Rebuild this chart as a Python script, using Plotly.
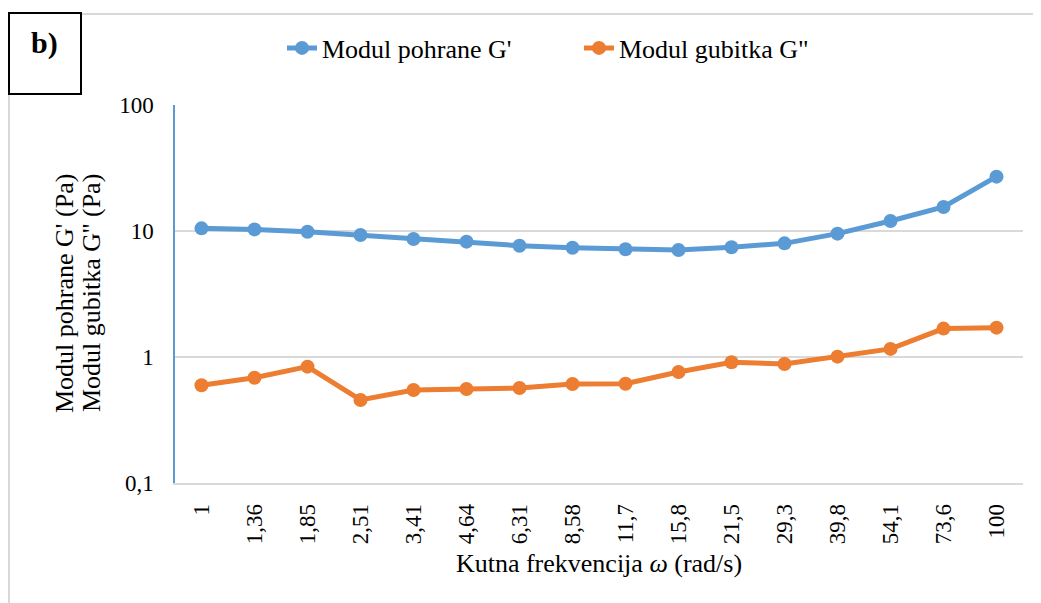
import plotly.graph_objects as go

categories = ["1", "1,36", "1,85", "2,51", "3,41", "4,64", "6,31", "8,58", "11,7",
              "15,8", "21,5", "29,3", "39,8", "54,1", "73,6", "100"]
g_storage = [10.5, 10.3, 9.87, 9.29, 8.64, 8.23, 7.64, 7.36, 7.16, 7.06, 7.43, 7.98,
             9.53, 12.0, 15.5, 27.0]
g_loss = [0.596, 0.685, 0.838, 0.456, 0.547, 0.557, 0.567, 0.611, 0.614, 0.760, 0.908,
          0.880, 1.006, 1.16, 1.68, 1.71]
y_tickvals = [0.1, 1, 10, 100]
y_ticktext = ["0,1", "1", "10", "100"]
y_title_lines = ["Modul pohrane G' (Pa)", "Modul gubitka G'' (Pa)"]

FONT = "Liberation Serif"
BLUE = "#5B9BD5"
ORANGE = "#ED7D31"
GRID = "#D9D9D9"

OFF = 8  # page body margin
W, H = 1041 - OFF, 603 - OFF
L, R, T, B = 175 - OFF, 18, 105 - OFF, 120
pw, ph = W - L - R, H - T - B


def px(x):
    return (x - OFF - L) / pw


def py(y):
    return (H - B - (y - OFF)) / ph


fig = go.Figure()
fig.add_trace(go.Scatter(x=categories, y=g_storage, mode="lines+markers",
                         name="Modul pohrane G'",
                         line=dict(color=BLUE, width=5),
                         marker=dict(color=BLUE, size=14)))
fig.add_trace(go.Scatter(x=categories, y=g_loss, mode="lines+markers",
                         name="Modul gubitka G\"",
                         line=dict(color=ORANGE, width=5),
                         marker=dict(color=ORANGE, size=14)))

fig.update_layout(
    width=W, height=H,
    margin=dict(l=L, r=R, t=T, b=B),
    paper_bgcolor="white", plot_bgcolor="white",
    font=dict(family=FONT, size=23, color="black"),
    showlegend=True,
    legend=dict(orientation="h", x=px(282), xanchor="left", y=py(48), yanchor="middle",
                font=dict(family=FONT, size=26, color="black"),
                entrywidth=252, entrywidthmode="pixels", tracegroupgap=0),
    xaxis=dict(type="category", showgrid=False, showline=True, linecolor=GRID,
               linewidth=1.5, tickangle=-90, ticks="outside", ticklen=10,
               tickcolor="rgba(0,0,0,0)", tickfont=dict(family=FONT, size=23),
               title=dict(text="Kutna frekvencija <i>ω</i> (rad/s)",
                          font=dict(family=FONT, size=26), standoff=11),
               range=[-0.5, len(categories) - 0.5]),
    yaxis=dict(type="log", range=[-1, 2], tickvals=y_tickvals, ticktext=y_ticktext,
               showgrid=True, gridcolor=GRID, gridwidth=1.5,
               showline=True, linecolor=BLUE, linewidth=1.5,
               ticks="outside", ticklen=15, tickcolor="rgba(0,0,0,0)",
               tickfont=dict(family=FONT, size=23)),
    shapes=[
        dict(type="line", xref="paper", yref="paper", x0=px(81), x1=px(1041),
             y0=py(14), y1=py(14), line=dict(color=GRID, width=2)),
        dict(type="line", xref="paper", yref="paper", x0=px(9), x1=px(9),
             y0=py(94), y1=py(603), line=dict(color=GRID, width=2)),
        dict(type="rect", xref="paper", yref="paper", x0=px(9), x1=px(81),
             y0=py(13), y1=py(94), line=dict(color="black", width=2),
             fillcolor="white"),
    ],
    annotations=[
        dict(text="<b>b)</b>", xref="paper", yref="paper", x=px(44), y=py(43),
             xanchor="center", yanchor="middle", showarrow=False,
             font=dict(family=FONT, size=30, color="black")),
        dict(text=y_title_lines[0], xref="paper", yref="paper", x=px(64), y=py(293),
             xanchor="center", yanchor="middle", showarrow=False, textangle=-90,
             font=dict(family=FONT, size=26, color="black")),
        dict(text=y_title_lines[1], xref="paper", yref="paper", x=px(91), y=py(293),
             xanchor="center", yanchor="middle", showarrow=False, textangle=-90,
             font=dict(family=FONT, size=26, color="black")),
    ],
)

fig.write_html("out.html")
